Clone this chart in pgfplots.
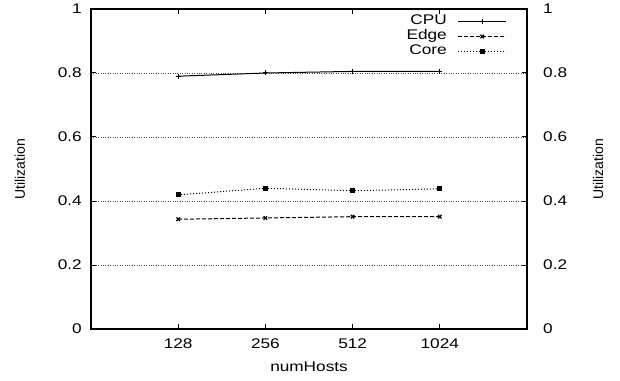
\documentclass[border=0pt]{standalone}
\usepackage{fontspec}
\setmainfont[FakeStretch=1.23]{Liberation Sans}
\newfontfamily\rotfont{Liberation Sans}
\usepackage{pgfplots}
\pgfplotsset{compat=1.18}
\newcommand\fs{\fontsize{14}{16}\selectfont}
\begin{document}
\begin{tikzpicture}
\pgfplotsset{
  base/.style={
    scale only axis, width=436pt, height=320pt,
    xmin=64, xmax=2048, ymin=0, ymax=1,
    ytick={0,0.2,0.4,0.6,0.8,1},
    xtick={128,256,512,1024},
    xticklabel={\pgfmathparse{int(round(2^\tick))}\pgfmathresult},
    /pgf/number format/assume math mode=true,
    tick label style={font=\fs},
    major tick length=5pt, tick align=inside,
    tick style={line width=1pt, black},
    axis line style={line width=1.2pt},
  }
}
\begin{axis}[xmode=log, log basis x=2, base, name=main,
  xtick pos=both, ytick pos=both,
  yticklabel pos=left, xticklabel pos=lower,
  yticklabel style={anchor=east, inner sep=0pt, xshift=-9pt},
  xticklabel style={anchor=base, inner sep=0pt, yshift=-19pt},
  ymajorgrids, major grid style={dotted, line width=0.7pt, black!70},
  xlabel={numHosts}, ylabel={Utilization},
  every axis x label/.style={at={(axis description cs:0.5,-0.119)}, anchor=center, font=\fs},
  every axis y label/.style={at={(axis description cs:-0.163,0.5)}, rotate=90, anchor=center, font=\fs\rotfont},
  legend plot pos=right, legend cell align=right,
  legend style={at={(axis description cs:0.954,0.985)}, anchor=north east,
    draw=none, fill=none, inner sep=0pt, row sep=0pt, column sep=10pt,
    nodes={inner sep=1pt, text height=10pt, text depth=3pt, font=\fs}},
  legend image code/.code={\draw[mark repeat=2, mark phase=2] plot coordinates {(0pt,0pt)(24pt,0pt)(48pt,0pt)};},
]
\addplot[black, line width=1pt, mark=+, mark size=2.5pt, mark options={solid}]
  coordinates {(128,0.790) (256,0.800) (512,0.805) (1024,0.805)};
\addlegendentry{CPU}
\addplot[black, line width=1pt, dash pattern=on 4pt off 2pt, mark=x, mark size=2.5pt, mark options={solid, line width=1.2pt}]
  coordinates {(128,0.343) (256,0.347) (512,0.351) (1024,0.351)};
\addlegendentry{Edge}
\addplot[black, line width=1pt, dash pattern=on 1pt off 2pt, mark=square*, mark size=2pt, mark options={solid}]
  coordinates {(128,0.419) (256,0.440) (512,0.432) (1024,0.438)};
\addlegendentry{Core}
\end{axis}
\begin{axis}[xmode=log, log basis x=2, base,
  axis y line*=right, axis x line=none,
  ytick style={draw=none},
  yticklabel style={anchor=west, inner sep=0pt, xshift=16pt},
  ylabel={Utilization},
  every axis y label/.style={at={(axis description cs:1.163,0.5)}, rotate=90, anchor=center, font=\fs\rotfont},
]
\end{axis}
\pgfresetboundingbox
\useasboundingbox ([xshift=-91pt, yshift=-51pt]main.south west) rectangle +(620pt,380pt);
\end{tikzpicture}
\end{document}
